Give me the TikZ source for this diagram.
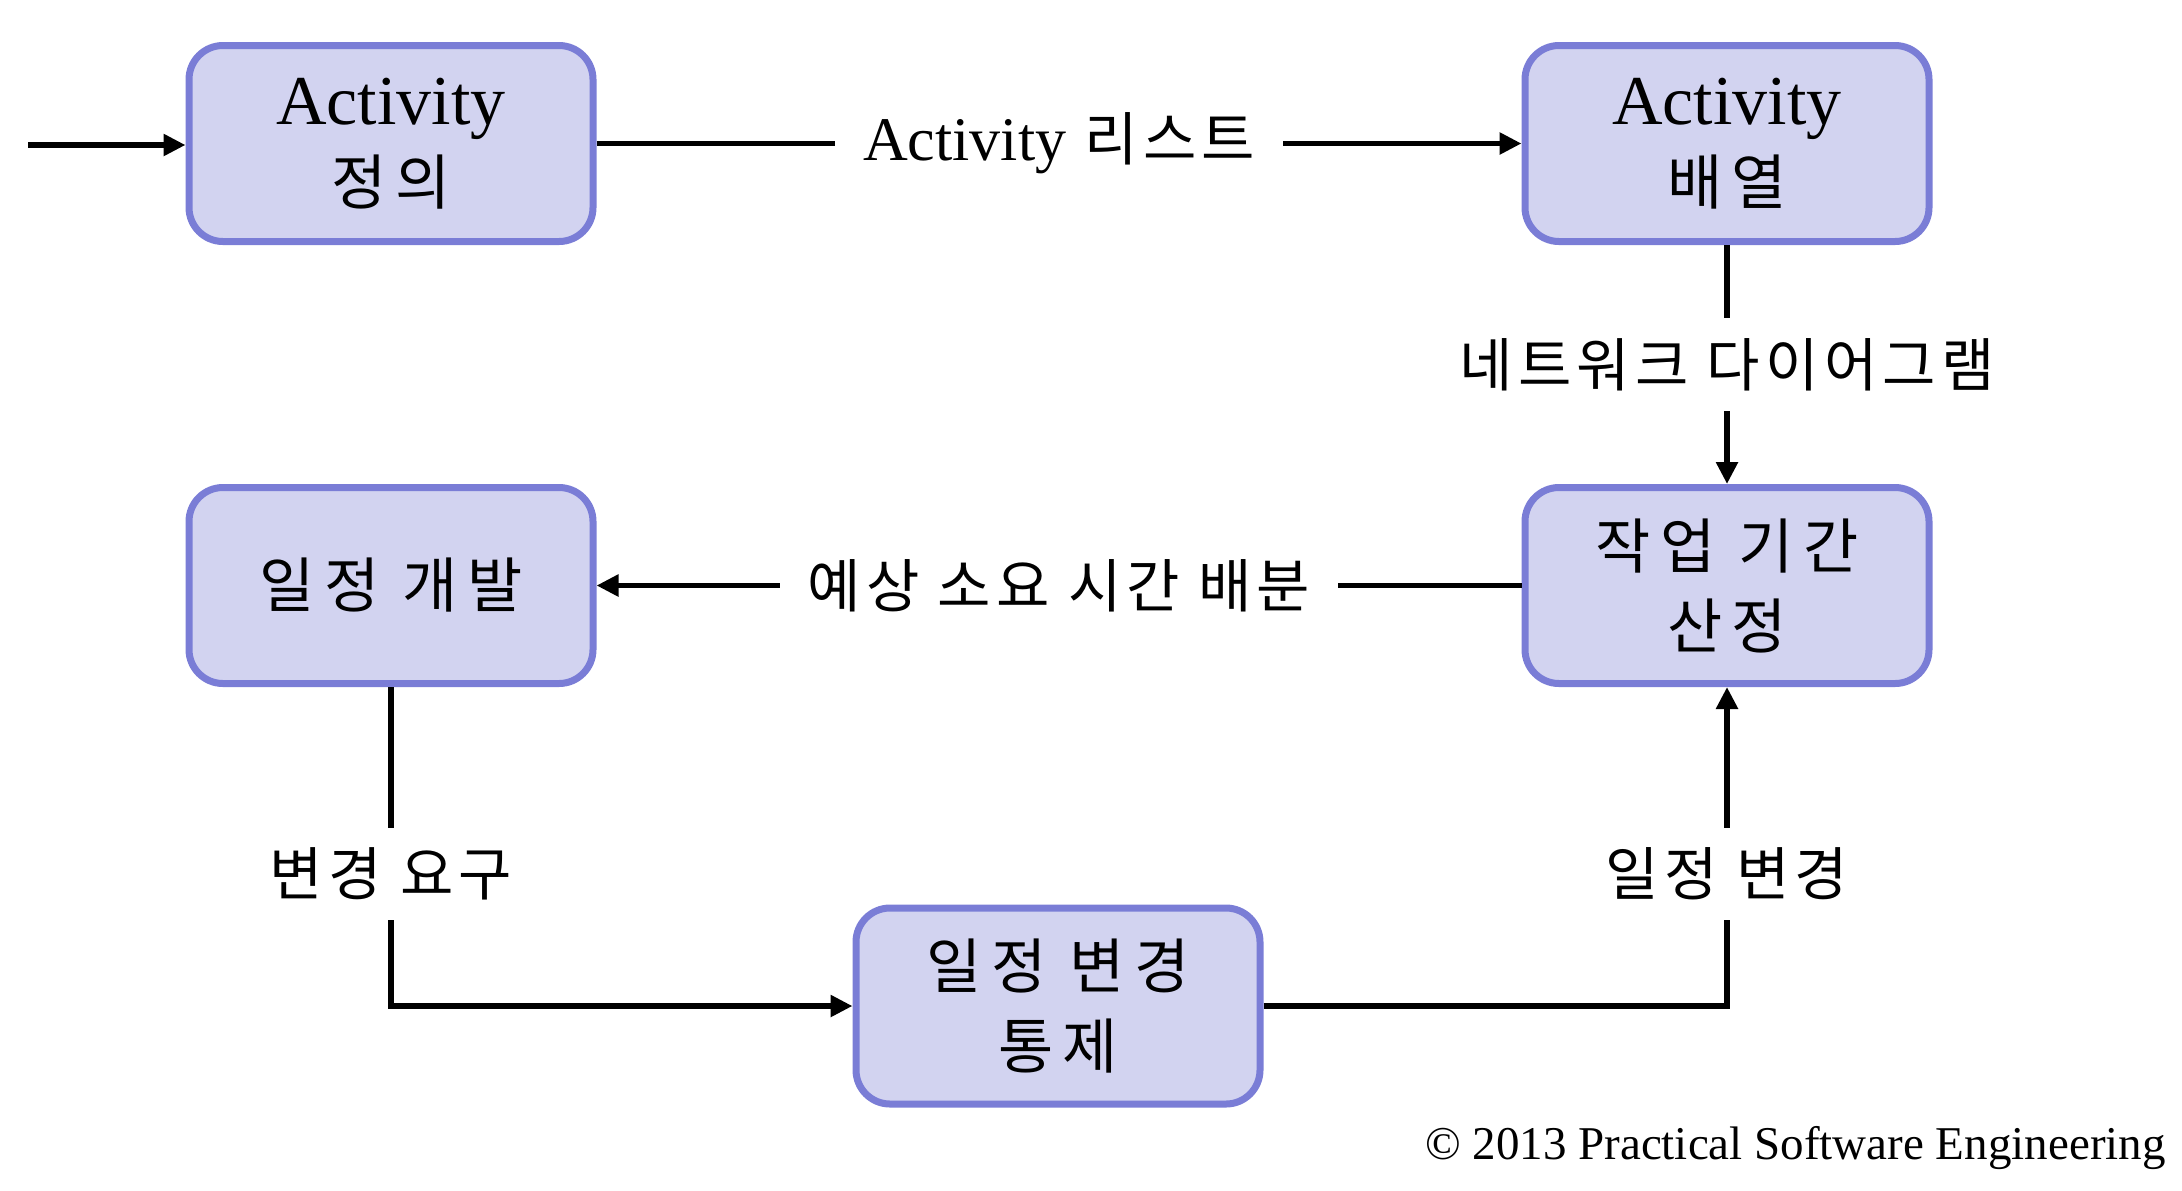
\documentclass[tikz,border=0pt]{standalone}
\usepackage{fontspec}
\setmainfont{Liberation Serif}
\newfontfamily\krbox[LetterSpace=16]{Noto Sans CJK KR}
\newfontfamily\krlab[LetterSpace=9]{Noto Sans CJK KR}
\usetikzlibrary{arrows.meta}
\definecolor{boxfill}{RGB}{210,211,240}
\definecolor{boxline}{RGB}{122,125,214}
\begin{document}
\begin{tikzpicture}[x=0.5pt,y=-0.5pt,
  box/.style={draw=boxline, fill=boxfill, line width=3.5pt, rounded corners=17pt,
    minimum width=202pt, minimum height=98pt, align=center, inner sep=0pt,
    font=\krbox\fontsize{30}{40}\selectfont},
  lab/.style={fill=white, inner xsep=14pt, inner ysep=10pt,
    font=\krlab\fontsize{29}{35}\selectfont},
  conn/.style={line width=2.75pt, -{Triangle[length=11pt,width=10.5pt]}}]
\useasboundingbox (0,0) rectangle (2182,1190);

\node[box] (b1) at (391,143.5) {{\rmfamily\fontsize{35}{40}\selectfont Activity}\\정의};
\node[box] (b2) at (1727,143.5) {{\rmfamily\fontsize{35}{40}\selectfont Activity}\\배열};
\node[box] (b3) at (391,585.5) {일정 개발};
\node[box] (b4) at (1727,585.5) {작업 기간\\산정};
\node[box] (b5) at (1058,1006) {일정 변경\\통제};

\coordinate (start) at (28,145);
\draw[conn] (start) -- (start -| b1.west);

\draw[conn] (b1.east) -- (b2.west)
  node[midway, lab] (l1) {{\rmfamily\fontsize{31}{35}\selectfont Activity} 리스트};
\draw[conn] (b2.south) -- (b4.north)
  node[midway, lab] (l2) {네트워크 다이어그램};
\draw[conn] (b4.west) -- (b3.east)
  node[midway, lab] (l3) {예상 소요 시간 배분};
\draw[conn] (b3.south) |- (b5.west)
  node[pos=0.293, lab] (l4) {변경 요구};
\draw[conn] (b5.east) -| (b4.south)
  node[pos=0.707, lab] (l5) {일정 변경};

\node[anchor=base east, inner sep=0pt, font=\rmfamily\fontsize{23.5}{28}\selectfont] (copy) at (2166,1159)
  {© 2013 Practical Software Engineering};
\end{tikzpicture}
\end{document}
